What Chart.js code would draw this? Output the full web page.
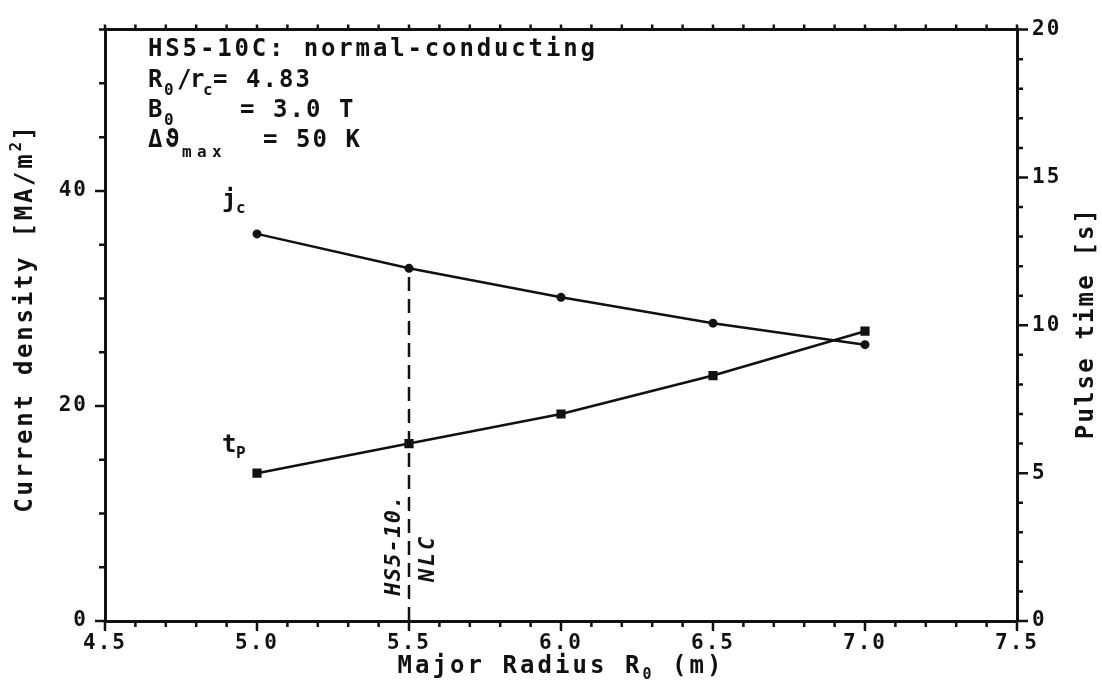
<!DOCTYPE html>
<html>
<head>
<meta charset="utf-8">
<script src="https://cdn.jsdelivr.net/npm/chart.js@4.4.1/dist/chart.umd.min.js"></script>
<style>
  html, body { margin: 0; padding: 0; background: #fff; }
  #wrap { width: 1102px; height: 691px; position: relative; }
</style>
</head>
<body>
<div id="wrap"><canvas id="myChart"></canvas></div>
<script>
// values
const radius = [5.0, 5.5, 6.0, 6.5, 7.0];
const currentDensity = [36.0, 32.8, 30.1, 27.7, 25.7];   // j_c, MA/m^2 (left axis)
const pulseTime = [5.0, 6.0, 7.0, 8.3, 9.8];              // t_P, s (right axis)
const nlcRadius = 5.5;
const xTicks = [4.5, 5.0, 5.5, 6.0, 6.5, 7.0, 7.5];
const jTicks = [0, 20, 40];
const tTicks = [0, 5, 10, 15, 20];

const INK = '#111';
const MONO = '"DejaVu Sans Mono"';
const tickFont = { family: 'DejaVu Sans Mono', size: 21, weight: 'bold' };

function drawRuns(ctx, list, x, y) {
  list.forEach(r => {
    ctx.font = (r.style || '') + ' bold ' + r.size + 'px ' + MONO;
    for (const ch of r.t) {
      ctx.fillText(ch, x, y + (r.dy || 0));
      x += r.adv;
    }
  });
  return x;
}
function runsWidth(list) {
  return list.reduce((s, r) => s + r.t.length * r.adv, 0);
}
function drawCentered(ctx, list, cx, y, rot) {
  ctx.save();
  ctx.translate(cx, y);
  if (rot) ctx.rotate(rot);
  drawRuns(ctx, list, -runsWidth(list) / 2, 0);
  ctx.restore();
}

const decor = {
  id: 'decor',
  beforeDraw(chart) {
    const ctx = chart.ctx;
    ctx.save();
    ctx.fillStyle = '#fff';
    ctx.fillRect(0, 0, chart.width, chart.height);
    ctx.restore();
    ctx.letterSpacing = '2px';
  },
  afterDraw(chart) {
    const ctx = chart.ctx;
    const { x, y, y2 } = chart.scales;
    const a = chart.chartArea;
    ctx.save();
    ctx.letterSpacing = '0px';
    ctx.strokeStyle = INK;
    ctx.fillStyle = INK;
    ctx.lineWidth = 2.5;

    // tick marks, minor + major
    ctx.beginPath();
    for (let i = 0; i <= 30; i++) {
      const px = x.getPixelForValue(4.5 + i * 0.1);
      const major = i % 5 === 0;
      ctx.moveTo(px, a.bottom); ctx.lineTo(px, a.bottom + (major ? 10 : 6));
      ctx.moveTo(px, a.top); ctx.lineTo(px, a.top - 5);
    }
    for (let v = 0; v <= 55; v += 5) {
      const py = y.getPixelForValue(v);
      ctx.moveTo(a.left, py); ctx.lineTo(a.left - (v % 20 === 0 ? 10 : 6), py);
    }
    for (let v = 0; v <= 20; v++) {
      const py = y2.getPixelForValue(v);
      ctx.moveTo(a.right, py); ctx.lineTo(a.right + (v % 5 === 0 ? 11 : 6), py);
    }
    ctx.stroke();

    ctx.textBaseline = 'alphabetic';
    ctx.textAlign = 'left';

    // parameter block
    const big = 24, sm = 16, adv = 17.3;
    drawRuns(ctx, [{ t: 'HS5-10C: normal-conducting', size: big, adv }], 148, 56);
    drawRuns(ctx, [{ t: 'R', size: big, adv: 16 }, { t: '0', size: sm, adv: 13, dy: 8 },
                   { t: '/r', size: big, adv: 13 }, { t: 'c', size: sm, adv: 10, dy: 8 },
                   { t: '= 4.83', size: big, adv: 16.5 }], 148, 87);
    drawRuns(ctx, [{ t: 'B', size: big, adv: 16 }, { t: '0', size: sm, adv: 13, dy: 8 }], 148, 117);
    drawRuns(ctx, [{ t: '= 3.0 T', size: big, adv: 16.5 }], 240, 117);
    drawRuns(ctx, [{ t: '\u0394\u03D1', size: big, adv: 17 }, { t: 'max', size: sm, adv: 15, dy: 10 }], 148, 147);
    drawRuns(ctx, [{ t: '= 50 K', size: big, adv: 16.5 }], 263, 147);

    // curve labels
    drawRuns(ctx, [{ t: 'j', size: big, adv: 14 }, { t: 'c', size: sm, adv: 10, dy: 6 }], 222, 207);
    drawRuns(ctx, [{ t: 't', size: big, adv: 14 }, { t: 'P', size: sm, adv: 10, dy: 6 }], 222, 452);

    // design point annotation
    drawCentered(ctx, [{ t: 'HS5-10.', size: 22, adv: 14.5, style: 'italic' }], 400, 545, -Math.PI / 2);
    drawCentered(ctx, [{ t: 'NLC', size: 22, adv: 16, style: 'italic' }], 434, 558, -Math.PI / 2);

    // axis titles
    drawCentered(ctx, [{ t: 'Current density [MA/m', size: 24, adv: 17.2 },
                       { t: '2', size: 16, adv: 11, dy: -11 },
                       { t: ']', size: 24, adv: 17.2 }], 32, 318, -Math.PI / 2);
    drawCentered(ctx, [{ t: 'Pulse time [s]', size: 24, adv: 16.6 }], 1093, 323, -Math.PI / 2);
    drawCentered(ctx, [{ t: 'Major Radius R', size: 24, adv: 17.5 },
                       { t: '0', size: 15, adv: 12, dy: 6 },
                       { t: ' (m)', size: 24, adv: 17.5 }], 561, 673, 0);
    ctx.restore();
  }
};

const jcPoints = radius.map((r, i) => ({ x: r, y: currentDensity[i] }));
const tpPoints = radius.map((r, i) => ({ x: r, y: pulseTime[i] }));
const nlcLine = [{ x: nlcRadius, y: 0 }, { x: nlcRadius, y: currentDensity[radius.indexOf(nlcRadius)] }];

const border = { display: true, color: INK, width: 3 };
const noGrid = { display: false, drawTicks: false };

const config = {
  type: 'scatter',
  data: {
    datasets: [
      {
        label: 'jc', data: jcPoints, yAxisID: 'y', showLine: true,
        borderColor: INK, borderWidth: 2.5, backgroundColor: INK,
        pointStyle: 'circle', pointRadius: 4.5, pointBorderWidth: 0
      },
      {
        label: 'tP', data: tpPoints, yAxisID: 'y2', showLine: true,
        borderColor: INK, borderWidth: 2.5, backgroundColor: INK,
        pointStyle: 'rect', pointRadius: 6.5, pointBorderWidth: 0
      },
      {
        label: 'NLC', data: nlcLine, yAxisID: 'y', showLine: true,
        borderColor: INK, borderWidth: 2.5, borderDash: [14, 8], pointRadius: 0
      }
    ]
  },
  options: {
    responsive: true,
    maintainAspectRatio: false,
    animation: false,
    layout: { padding: 0 },
    plugins: { legend: { display: false }, tooltip: { enabled: false } },
    scales: {
      x: {
        type: 'linear', position: 'bottom', min: 4.5, max: 7.5,
        afterBuildTicks: s => { s.ticks = xTicks.map(v => ({ value: v })); },
        afterFit: s => { s.height = 70; },
        ticks: { callback: v => v.toFixed(1), font: tickFont, color: INK, padding: 10, maxRotation: 0, autoSkip: false },
        grid: noGrid, border
      },
      xTop: {
        type: 'linear', position: 'top', min: 4.5, max: 7.5,
        afterFit: s => { s.height = 17; },
        ticks: { display: false },
        grid: noGrid, border
      },
      y: {
        type: 'linear', position: 'left', min: 0, max: 55,
        afterBuildTicks: s => { s.ticks = jTicks.map(v => ({ value: v })); },
        afterFit: s => { s.width = 105; },
        ticks: { font: tickFont, color: INK, padding: 17 },
        grid: noGrid, border
      },
      y2: {
        type: 'linear', position: 'right', min: 0, max: 20,
        afterBuildTicks: s => { s.ticks = tTicks.map(v => ({ value: v })); },
        afterFit: s => { s.width = 85; },
        ticks: { font: tickFont, color: INK, padding: 15 },
        grid: noGrid, border
      }
    }
  },
  plugins: [decor]
};

window.onload = function () {
  const ctx = document.getElementById('myChart').getContext('2d');
  new Chart(ctx, config);
};
</script>
</body>
</html>
